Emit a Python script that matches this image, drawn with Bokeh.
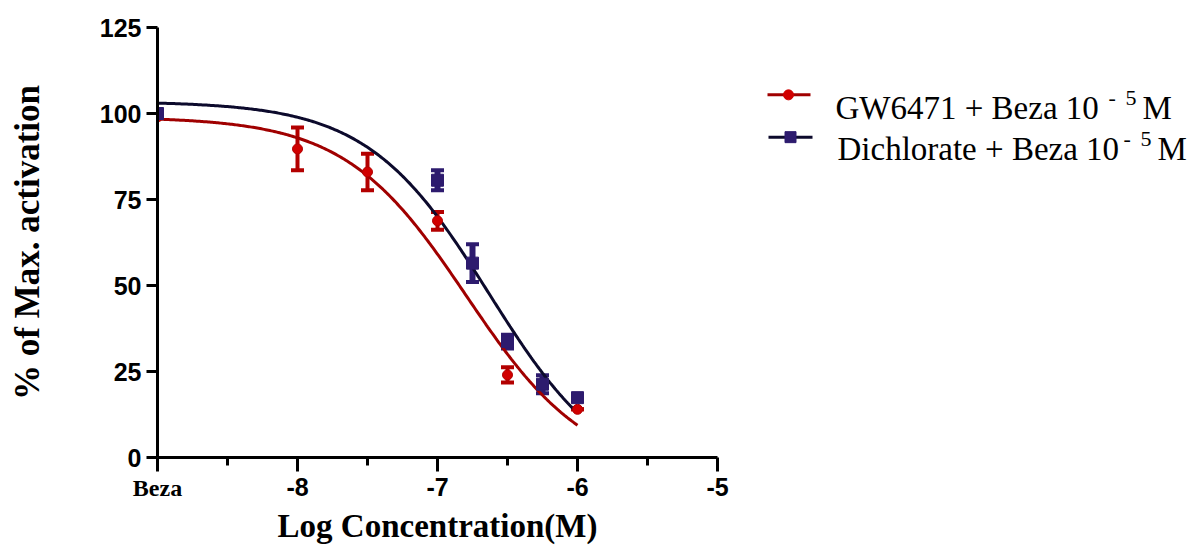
import numpy as np
from bokeh.plotting import figure
from bokeh.layouts import row
from bokeh.models import Range1d, FixedTicker, Whisker, TeeHead, ColumnDataSource, LinearAxis
from bokeh.core.properties import value
from bokeh.embed import file_html
from bokeh.resources import INLINE

# ---------------- data ----------------
x_ticks = [-9, -8, -7, -6, -5]
x_tick_labels = ["Beza", "-8", "-7", "-6", "-5"]
x_minor = [-8.5, -7.5, -6.5, -5.5]
y_ticks = [0, 25, 50, 75, 100, 125]

gw_conc = [-9, -8, -7.5, -7, -6.5, -6]
gw_mean = [99.0, 89.7, 83.0, 68.8, 24.0, 14.0]
gw_sem = [0.0, 6.2, 5.3, 2.6, 2.2, 0.0]

di_conc = [-9, -7, -6.75, -6.5, -6.25, -6]
di_mean = [100.0, 80.6, 56.5, 33.7, 21.3, 17.4]
di_sem = [0.0, 2.9, 5.5, 2.0, 2.6, 0.8]

# sigmoidal dose-response fit parameters (top, bottom, logIC50, hill)
gw_fit = dict(top=99.0, bottom=-5.0, logec50=-6.794, hill=1.0)
di_fit = dict(top=103.5, bottom=-8.2, logec50=-6.632, hill=1.0)

legend_labels = ["GW6471 + Beza 10", "Dichlorate + Beza 10"]

RED_MK = "#d10000"
RED_BAR = "#b30000"
RED_LN = "#a00000"
BLU_MK = "#2d1b6e"
BLU_LN = "#0c0a2c"

def curve(par, xs):
    return par["bottom"] + (par["top"] - par["bottom"]) / (1 + 10 ** ((xs - par["logec50"]) * par["hill"]))

xs = np.linspace(-9, -6, 300)

# ---------------- main plot ----------------
p = figure(width=738, height=549, x_range=Range1d(-9, -5), y_range=Range1d(0, 125),
           output_backend="svg", toolbar_location=None,
           min_border_left=157, min_border_right=21, min_border_top=27, min_border_bottom=92)
p.outline_line_color = None
p.grid.visible = False

# curves
p.line(xs, curve(gw_fit, xs), line_color=RED_LN, line_width=3)
p.line(xs, curve(di_fit, xs), line_color=BLU_LN, line_width=3)

# GW6471 series
gsrc = ColumnDataSource(dict(x=gw_conc, y=gw_mean,
                             lo=[m - s for m, s in zip(gw_mean, gw_sem)],
                             hi=[m + s for m, s in zip(gw_mean, gw_sem)]))
gw_wh = Whisker(source=gsrc, base="x", upper="hi", lower="lo", line_color=RED_BAR, line_width=4,
                upper_head=TeeHead(size=13, line_color=RED_BAR, line_width=4),
                lower_head=TeeHead(size=13, line_color=RED_BAR, line_width=4))
p.add_layout(gw_wh)
p.scatter("x", "y", source=gsrc, marker="circle", size=10, fill_color=RED_MK, line_color=RED_BAR)

# Dichlorate series
dsrc = ColumnDataSource(dict(x=di_conc, y=di_mean,
                             lo=[m - s for m, s in zip(di_mean, di_sem)],
                             hi=[m + s for m, s in zip(di_mean, di_sem)]))
di_wh = Whisker(source=dsrc, base="x", upper="hi", lower="lo", line_color=BLU_MK, line_width=6,
                upper_head=TeeHead(size=13, line_color=BLU_MK, line_width=4),
                lower_head=TeeHead(size=13, line_color=BLU_MK, line_width=4))
p.add_layout(di_wh)
p.scatter("x", "y", source=dsrc, marker="square", size=12, fill_color=BLU_MK, line_color=BLU_MK)

# axes
for ax in (p.xaxis[0], p.yaxis[0]):
    ax.axis_line_width = 3
    ax.axis_line_color = "black"
    ax.major_tick_line_width = 3
    ax.major_tick_line_color = "black"
    ax.major_tick_in = 0
    ax.major_label_text_font = "Liberation Sans"
    ax.major_label_text_font_style = "bold"
    ax.major_label_text_font_size = "25px"
    ax.major_label_text_color = "black"

p.xaxis.ticker = FixedTicker(ticks=x_ticks, minor_ticks=x_minor)
p.xaxis.major_label_overrides = {t: (lab if lab != "Beza" else "") for t, lab in zip(x_ticks, x_tick_labels)}
p.xaxis.major_tick_out = 14
p.xaxis.minor_tick_out = 8
p.xaxis.minor_tick_in = 0
p.xaxis.minor_tick_line_width = 3
p.xaxis.minor_tick_line_color = "black"
p.xaxis.major_label_standoff = 6

p.yaxis.ticker = FixedTicker(ticks=y_ticks, minor_ticks=[])
p.yaxis.major_tick_out = 11
p.yaxis.minor_tick_line_color = None
p.yaxis.major_label_standoff = 5
p.yaxis.axis_label = "% of Max. activation"
p.yaxis.axis_label_text_font = "Liberation Serif"
p.yaxis.axis_label_text_font_style = "bold"
p.yaxis.axis_label_text_font_size = "35px"
p.yaxis.axis_label_text_color = "black"
p.yaxis.axis_label_standoff = 50

# second (label-only) x axis: "Beza" tick label in serif and the x-axis title
beza_ticks = [t for t, lab in zip(x_ticks, x_tick_labels) if lab == "Beza"]
bx = LinearAxis(ticker=FixedTicker(ticks=beza_ticks, minor_ticks=[]),
                major_label_overrides={t: "Beza" for t in beza_ticks},
                axis_line_color=None, major_tick_line_color=None, minor_tick_line_color=None,
                major_tick_out=0, major_tick_in=0, major_label_standoff=-24,
                major_label_text_font="Liberation Serif", major_label_text_font_style="bold",
                major_label_text_font_size="24px", major_label_text_color="black",
                axis_label="Log Concentration(M)", axis_label_text_font="Liberation Serif",
                axis_label_text_font_style="bold", axis_label_text_font_size="33px",
                axis_label_text_line_height=1.0,
                axis_label_text_color="black", axis_label_standoff=4)
p.add_layout(bx, "below")

# ---------------- legend panel ----------------
lg = figure(width=462, height=549, x_range=Range1d(0, 462), y_range=Range1d(549, 0),
            output_backend="svg", toolbar_location=None, min_border=0,
            x_axis_location=None, y_axis_location=None)
lg.outline_line_color = None
lg.grid.visible = False

rows = [
    dict(lab=legend_labels[0], lx0=29, lx1=72, ly=86, mx=50, tx=97, base=103,
         dash_x=370, five_x=387, m_x=404, color=RED_LN, mk="circle", mkc=RED_MK, mks=10),
    dict(lab=legend_labels[1], lx0=30, lx1=74, ly=140, mx=52, tx=99, base=155,
         dash_x=385, five_x=402, m_x=419, color=BLU_LN, mk="square", mkc=BLU_MK, mks=11),
]
for r in rows:
    lg.line([r["lx0"], r["lx1"]], [r["ly"], r["ly"]], line_color=r["color"], line_width=3)
    lg.scatter([r["mx"]], [r["ly"]], marker=r["mk"], size=r["mks"], fill_color=r["mkc"], line_color=r["mkc"])
    lg.text([r["tx"]], [r["base"]], text=[r["lab"]], text_font=value("Liberation Serif"),
            text_font_size=value("33px"), text_baseline=value("alphabetic"), text_color="black")
    lg.text([r["dash_x"]], [r["base"] - 13], text=["-"], text_font=value("Liberation Serif"),
            text_font_size=value("22px"), text_baseline=value("alphabetic"), text_color="black")
    lg.text([r["five_x"]], [r["base"] - 13], text=["5"], text_font=value("Liberation Serif"),
            text_font_size=value("22px"), text_baseline=value("alphabetic"), text_color="black")
    lg.text([r["m_x"]], [r["base"]], text=["M"], text_font=value("Liberation Serif"),
            text_font_size=value("33px"), text_baseline=value("alphabetic"), text_color="black")

layout = row(p, lg)
open("out.html", "w").write(file_html(layout, INLINE))
